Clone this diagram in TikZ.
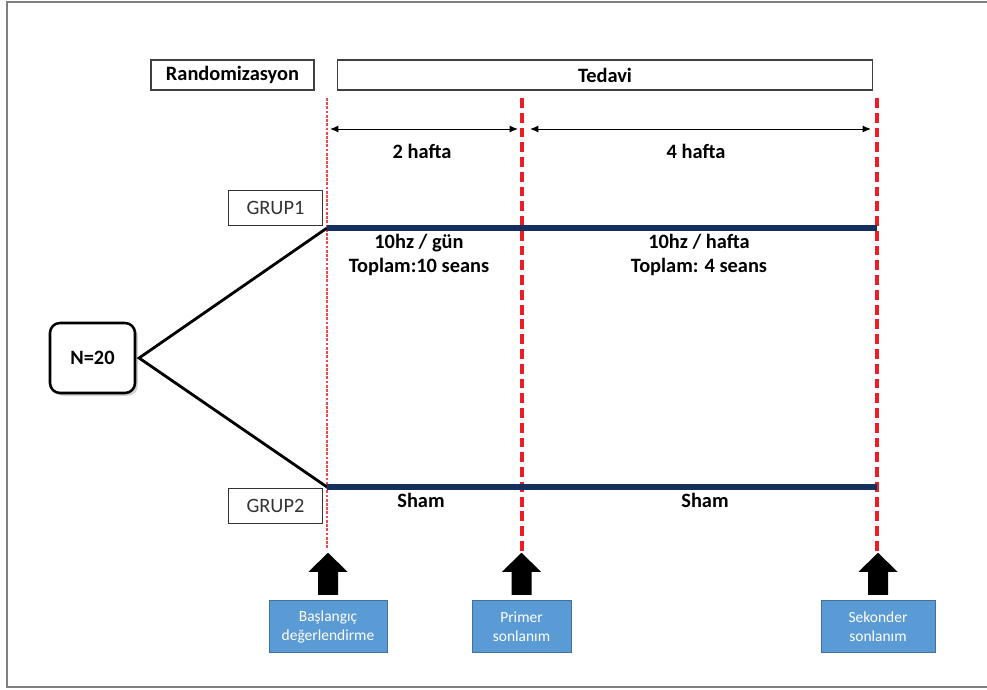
\documentclass[tikz,border=0pt]{standalone}
\usepackage{fontspec}
\setmainfont{Carlito}
\usetikzlibrary{arrows.meta,shadows}
\definecolor{navy}{HTML}{14305E}
\definecolor{boxblue}{HTML}{5B9BD5}
\definecolor{boxedge}{HTML}{41719C}
\definecolor{framegray}{HTML}{808080}
\definecolor{dashred}{HTML}{EE1C25}

\begin{document}
\begin{tikzpicture}[x=0.025cm, y=-0.025cm,
    hdr/.style={draw=black!75, line width=0.8pt, minimum height=0.75cm, inner sep=0pt,
      font=\fontsize{14.5}{16}\selectfont\bfseries},
    grp/.style={draw=black!80, line width=0.7pt, minimum width=2.325cm, minimum height=0.875cm,
      inner sep=0pt, text=black!80, font=\fontsize{14.5}{16}\selectfont},
    total/.style={draw, fill=white, rounded corners=0.25cm, line width=1.8pt,
      minimum width=2.125cm, minimum height=1.75cm, font=\fontsize{14.5}{16}\selectfont\bfseries,
      drop shadow={shadow xshift=2pt, shadow yshift=-2pt, opacity=0.35}},
    endpoint/.style={fill=boxblue, draw=boxedge, line width=0.6pt, text=white, align=center,
      minimum height=1.32cm, inner sep=0pt, font=\fontsize{11}{13.5}\selectfont},
    lbl/.style={align=center, font=\fontsize{14.5}{16.5}\selectfont\bfseries},
    startline/.style={dashred!80, line width=0.8pt, dash pattern=on 2pt off 1pt},
    timeline/.style={dashred, line width=2.8pt, dash pattern=on 7pt off 3.5pt},
    arm/.style={navy, line width=3.6pt},
    span/.style={{Latex[length=6pt,width=5pt]}-{Latex[length=6pt,width=5pt]}, line width=0.7pt},
    upblock/.pic={
      \fill (-10,0) -- (-10,-23) -- (-19.5,-23) -- (0,-42) -- (19.5,-23) -- (10,-23) -- (10,0) -- cycle;
    }]
  \useasboundingbox (0,0) rectangle (987,690);
  \draw[framegray, line width=1.2pt] (1000,2) -- (7,2) -- (7,687) -- (1000,687);

  % phases
  \node[hdr, minimum width=4.075cm] (rand) at (232.5,75) {Randomizasyon};
  \node[hdr, minimum width=13.35cm] (tedavi) at (605,75) {Tedavi};

  % time points
  \coordinate (t0top) at (327,98);  \coordinate (t0bot) at (327,548);
  \coordinate (t1top) at (522,98);  \coordinate (t1bot) at (522,552);
  \coordinate (t2top) at (877,98);  \coordinate (t2bot) at (877,552);
  \draw[startline] (t0top) -- (t0bot);
  \draw[timeline] (t1top) -- (t1bot);
  \draw[timeline] (t2top) -- (t2bot);

  % durations
  \coordinate (d1a) at (330,129);  \coordinate (d1b) at (518,129);
  \coordinate (d2a) at (530,129);  \coordinate (d2b) at (871,129);
  \draw[span] (d1a) -- (d1b);
  \draw[span] (d2a) -- (d2b);
  \node[lbl] (w2) at (422,151) {2 hafta};
  \node[lbl] (w4) at (696,151) {4 hafta};

  % groups
  \node[grp] (g1) at (275.5,207.5) {GRUP1};
  \node[grp] (g2) at (275.5,505.5) {GRUP2};
  \node[total] (n) at (92.5,358) {N=20};

  \coordinate (g1a) at (327,228);  \coordinate (g1b) at (877,228);
  \coordinate (g2a) at (327,487);  \coordinate (g2b) at (877,487);
  \draw[line width=2pt, line join=miter] (g1a) -- ([xshift=2pt]n.east) -- (g2a);
  \draw[arm] (g1a) -- (g1b);
  \draw[arm] (g2a) -- (g2b);

  \node[lbl] (dose1) at (419,255) {10hz / gün\\Toplam:10 seans};
  \node[lbl] (dose2) at (699,255) {10hz / hafta\\Toplam: 4 seans};
  \node[lbl] (sham1) at (421,500) {Sham};
  \node[lbl] (sham2) at (705,500) {Sham};

  % assessments
  \node[endpoint, minimum width=2.95cm] (base) at (328,626.5) {Başlangıç\\değerlendirme};
  \node[endpoint, minimum width=2.475cm] (prim) at (521.5,626.5) {Primer\\sonlanım};
  \node[endpoint, minimum width=2.85cm] (sek) at (878,626.5) {Sekonder\\sonlanım};
  \pic at ([yshift=3.5pt]base.north) {upblock};
  \pic at ([yshift=3.5pt]prim.north) {upblock};
  \pic at ([yshift=3.5pt]sek.north) {upblock};
\end{tikzpicture}
\end{document}
